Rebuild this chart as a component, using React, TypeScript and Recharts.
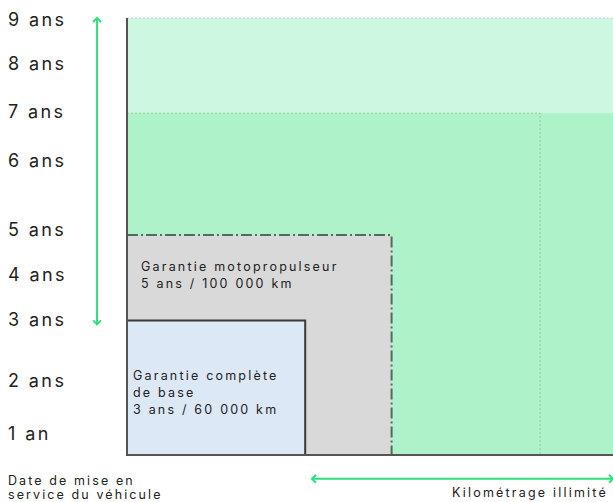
import { ComposedChart, XAxis, YAxis, ReferenceArea, ReferenceLine, Scatter } from "recharts";

// years axis (positions, linear 0..9)
const yearTicks = [8.96, 8.05, 7.06, 6.07, 4.65, 3.71, 2.78, 1.54, 0.43];
const yearLabels = ["9 ans", "8 ans", "7 ans", "6 ans", "5 ans", "4 ans", "3 ans", "2 ans", "1 an"];

// coverage zones, km x years
const baseKm = 66000;
const baseYears = 2.77;
const powertrainKm = 98000;
const powertrainYears = 4.53;
const midYears = 7.04;
const midKmLine = 153000;
const maxKm = 180000;
const maxYears = 9;

// arrows
const yearArrowKm = -11100;
const yearArrow = [9, 2.69];
const kmArrowYears = -0.49;
const kmArrow = [68500, 180000];

const baseText = ["Garantie complète", "de base", "3 ans / 60 000 km"];
const powertrainText = ["Garantie motopropulseur", "5 ans / 100 000 km"];
const originText = ["Date de mise en", "service du véhicule"];
const kmText = "Kilométrage illimité";

const corners = [
  { km: 0, years: 0 },
  { km: baseKm, years: baseYears },
  { km: powertrainKm, years: powertrainYears },
  { km: maxKm, years: maxYears },
];

const FONT = "Inter, 'Open Sans', sans-serif";
const GREEN = "#2fe07d";
const AXIS = "#555";

const YearTick = (props: any) => {
  const { y, payload } = props;
  const i = yearTicks.indexOf(payload.value);
  return (
    <text x={8} y={y} dy="0.35em" fontSize={18} letterSpacing={2.4} fill="#222" fontFamily={FONT}>
      {yearLabels[i]}
    </text>
  );
};

const lines = (rows: string[], dx: number, dy: number, size: number, lh: number) => (p: any) => {
  const vb = p.viewBox || {};
  return (
    <text x={vb.x + dx} y={vb.y + dy} fontSize={size} letterSpacing={2.2} fill="#222" fontFamily={FONT}>
      {rows.map((r, i) => (
        <tspan key={i} x={vb.x + dx} dy={i === 0 ? 0 : lh}>
          {r}
        </tspan>
      ))}
    </text>
  );
};

const Arrow = (props: any) => {
  const { x1, y1, x2, y2 } = props;
  const len = Math.hypot(x2 - x1, y2 - y1) || 1;
  const ux = (x2 - x1) / len;
  const uy = (y2 - y1) / len;
  const h = 4;
  const head = (tx: number, ty: number, dx: number, dy: number) =>
    `${tx + dx * h - dy * h},${ty + dy * h + dx * h} ${tx},${ty} ${tx + dx * h + dy * h},${ty + dy * h - dx * h}`;
  return (
    <g stroke={GREEN} strokeWidth={2} fill="none">
      <line x1={x1} y1={y1} x2={x2} y2={y2} />
      <polyline points={head(x1, y1, ux, uy)} />
      <polyline points={head(x2, y2, -ux, -uy)} />
    </g>
  );
};

export default function App() {
  return (
    <div style={{ position: "absolute", left: 0, top: 0 }}>
      <ComposedChart width={613} height={502} data={corners} margin={{ top: 18, right: 0, bottom: 47, left: 8 }}>
        <XAxis
          type="number"
          dataKey="km"
          domain={[0, maxKm]}
          allowDataOverflow
          height={0}
          tick={false}
          tickLine={false}
          axisLine={false}
        />
        <YAxis
          type="number"
          dataKey="years"
          domain={[0, maxYears]}
          allowDataOverflow
          ticks={yearTicks}
          interval={0}
          width={119}
          tick={<YearTick />}
          tickLine={false}
          axisLine={false}
        />
        <ReferenceArea x1={0} x2={maxKm} y1={0} y2={maxYears} fill="#cdf7e0" fillOpacity={1} stroke="none" />
        <ReferenceArea x1={0} x2={maxKm} y1={0} y2={midYears} fill="#aef2c9" fillOpacity={1} stroke="none" />
        <ReferenceLine y={maxYears} stroke="#d0d0d0" strokeDasharray="2 2" />
        <ReferenceArea
          x1={0}
          x2={midKmLine}
          y1={0}
          y2={midYears}
          fill="none"
          stroke="#98c4a7"
          strokeDasharray="2 2"
        />
        <ReferenceArea
          x1={0}
          x2={powertrainKm}
          y1={0}
          y2={powertrainYears}
          fill="#d9d9d9"
          fillOpacity={1}
          stroke="#4d6e5a"
          strokeWidth={2}
          strokeDasharray="11 3 2 3"
          label={lines(powertrainText, 14, 36, 12.5, 17)}
        />
        <ReferenceArea
          x1={0}
          x2={baseKm}
          y1={0}
          y2={baseYears}
          fill="#dce8f5"
          fillOpacity={1}
          stroke="#3a3a3a"
          strokeWidth={2}
          label={lines(baseText, 6, 59, 12.5, 17)}
        />
        <ReferenceLine y={0} stroke={AXIS} strokeWidth={2} />
        <ReferenceLine x={0} stroke={AXIS} strokeWidth={2} />
        <ReferenceLine
          segment={[
            { x: yearArrowKm, y: yearArrow[0] },
            { x: yearArrowKm, y: yearArrow[1] },
          ]}
          ifOverflow="visible"
          shape={<Arrow />}
        />
        <ReferenceLine
          segment={[
            { x: kmArrow[0], y: kmArrowYears },
            { x: kmArrow[1], y: kmArrowYears },
          ]}
          ifOverflow="visible"
          shape={<Arrow />}
          label={(p: any) => {
            const vb = p.viewBox || {};
            return (
              <text x={vb.x + vb.width - 5} y={497} textAnchor="end" fontSize={12.5} letterSpacing={2.2} fill="#222" fontFamily={FONT}>
                {kmText}
              </text>
            );
          }}
        />
        <ReferenceLine
          x={0}
          stroke="none"
          ifOverflow="visible"
          label={() => (
            <text x={8} y={485} fontSize={12.5} letterSpacing={2.1} fill="#222" fontFamily={FONT}>
              {originText.map((r, i) => (
                <tspan key={i} x={8} dy={i === 0 ? 0 : 14}>
                  {r}
                </tspan>
              ))}
            </text>
          )}
        />
        <Scatter dataKey="years" isAnimationActive={false} shape={() => <g />} />
      </ComposedChart>
    </div>
  );
}
